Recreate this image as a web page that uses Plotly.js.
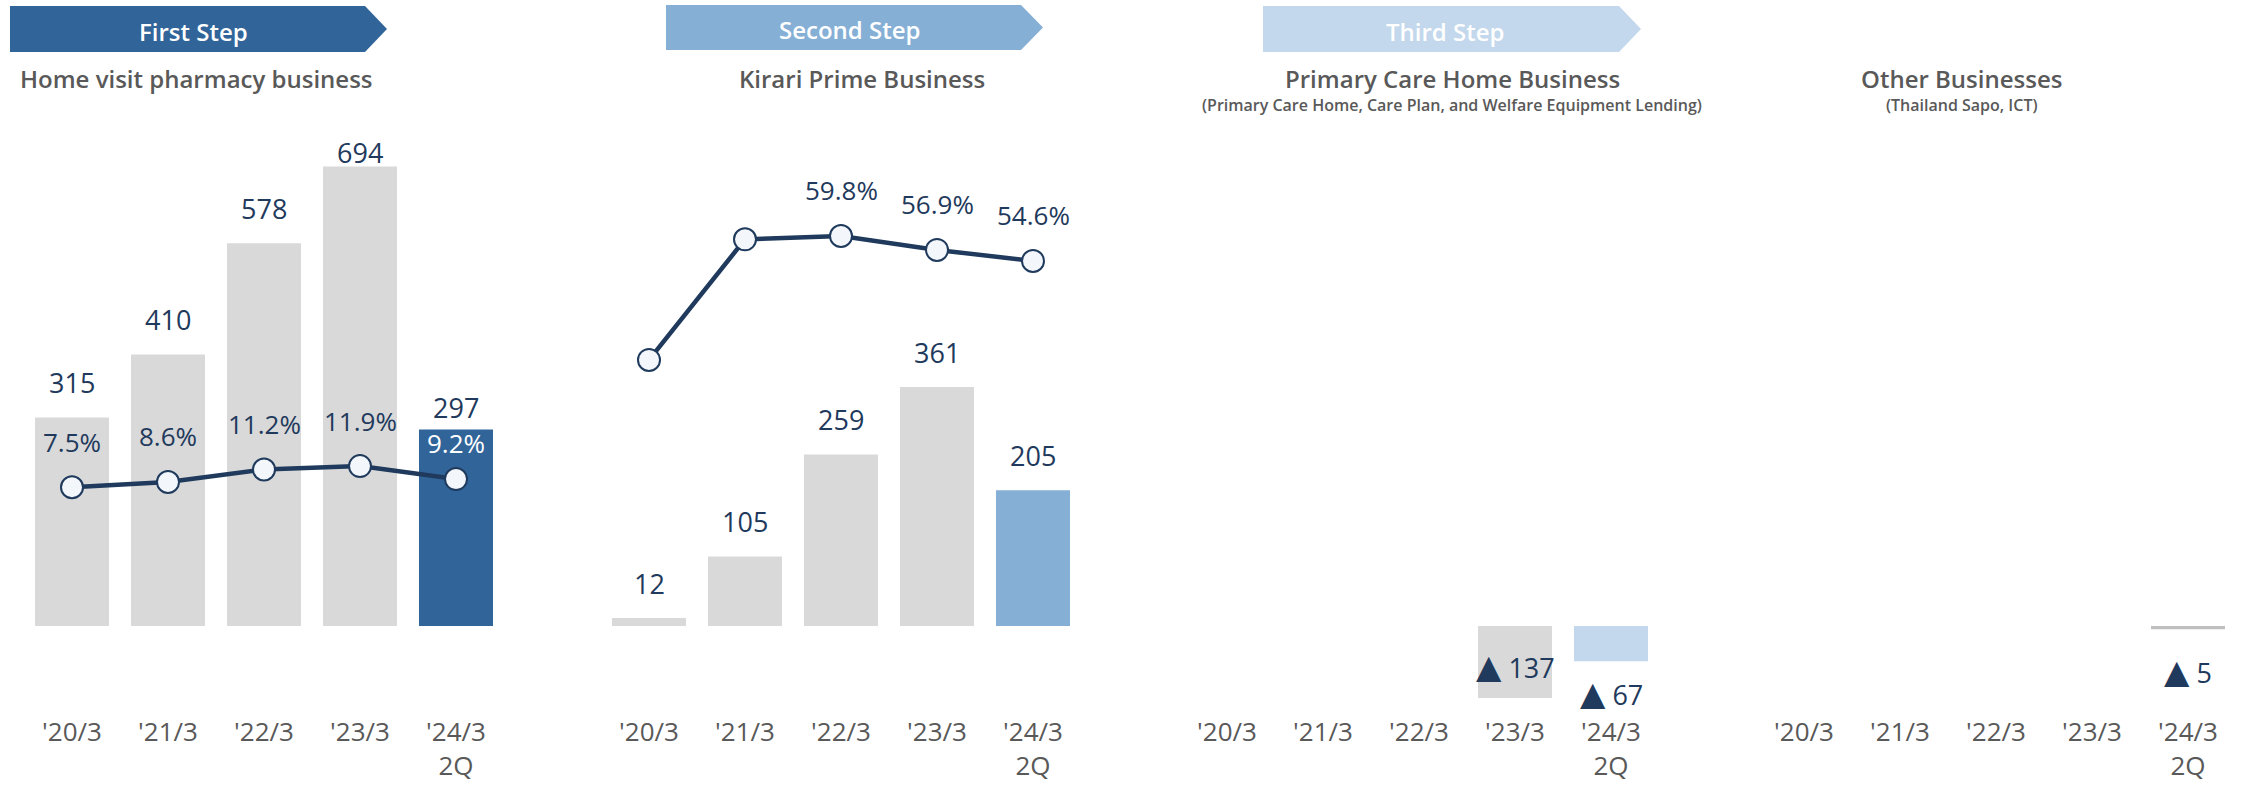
<!DOCTYPE html>
<html>
<head>
<meta charset="utf-8">
<script src="https://cdn.plot.ly/plotly-3.0.1.min.js"></script>
<style>
  html, body { margin: 0; padding: 0; background: #ffffff; }
  #chart { width: 2247px; height: 786px; }
</style>
</head>
<body>
<div id="chart"></div>
<script>
// ---------------- DATA ----------------
const categories = ["'20/3", "'21/3", "'22/3", "'23/3", "'24/3<br>2Q"];

const pharmacyProfit = [315, 410, 578, 694, 297];
const pharmacyMargin = [7.5, 8.6, 11.2, 11.9, 9.2];

const kirariProfit = [12, 105, 259, 361, 205];
const kirariMargin = [34.0, 59.1, 59.8, 56.9, 54.6];
const kirariMarginLabeled = [false, false, true, true, true];

const primaryCareProfit = [null, null, null, -137, -67];
const otherProfit = [null, null, null, null, -5];

const stepLabels = ["First Step", "Second Step", "Third Step"];
const panelTitles = ["Home visit pharmacy business", "Kirari Prime Business",
                     "Primary Care Home Business", "Other Businesses"];
const panelSubtitles = ["", "", "(Primary Care Home, Care Plan, and Welfare Equipment Lending)",
                        "(Thailand Sapo, ICT)"];

// ---------------- STYLE / LAYOUT ----------------
const W = 2247, H = 786;
const px = x => x / W;
const py = y => 1 - y / H;

const FONT = "'Open Sans', 'Noto Sans', 'DejaVu Sans', sans-serif";
const NAVY = '#1f3a5c';
const GRAY_TXT = '#595959';
const BAR_GRAY = '#d9d9d9';
const highlight = ['#31659a', '#86afd6', '#c3d8ec', '#bfbfbf'];

const baselineTop = 626;           // px from top where value 0 sits
const baseFromBottom = H - baselineTop;
const barScale = 0.662;            // px per unit (panels 1, 2, 4)
const barScale3 = 0.526;           // px per unit (panel 3)
const pctZeroTop = 523.3;          // px from top for 0 %
const pctScale = 4.805;            // px per %

const panelLeft = [24, 601, 1179, 1756];
const panelWidth = 480;
const axisPos = (H - 714) / H;

function yr(scale) { return [-baseFromBottom / scale, baselineTop / scale]; }
const pctRange = [-(H - pctZeroTop) / pctScale, pctZeroTop / pctScale];

function colors(vals, hl) {
  return vals.map((v, i) => i === vals.length - 1 ? hl : BAR_GRAY);
}
function fmt(v) {
  return v < 0 ? '<span style="font-size:33px">\u25B2</span> ' + Math.abs(v) : String(v);
}

const traces = [
  { type: 'bar', x: categories, y: pharmacyProfit, xaxis: 'x', yaxis: 'y',
    marker: { color: colors(pharmacyProfit, highlight[0]) }, hoverinfo: 'none' },
  { type: 'scatter', mode: 'lines+markers', x: categories, y: pharmacyMargin, xaxis: 'x', yaxis: 'y2',
    line: { color: NAVY, width: 4.5 },
    marker: { size: 22, color: '#f3f6fb', line: { color: NAVY, width: 2 } }, hoverinfo: 'none' },
  { type: 'bar', x: categories, y: kirariProfit, xaxis: 'x2', yaxis: 'y3',
    marker: { color: colors(kirariProfit, highlight[1]) }, hoverinfo: 'none' },
  { type: 'scatter', mode: 'lines+markers', x: categories, y: kirariMargin, xaxis: 'x2', yaxis: 'y4',
    line: { color: NAVY, width: 4.5 },
    marker: { size: 22, color: '#f3f6fb', line: { color: NAVY, width: 2 } }, hoverinfo: 'none' },
  { type: 'bar', x: categories, y: primaryCareProfit, xaxis: 'x3', yaxis: 'y5',
    marker: { color: colors(primaryCareProfit, highlight[2]) }, hoverinfo: 'none' },
  { type: 'bar', x: categories, y: otherProfit, xaxis: 'x4', yaxis: 'y6',
    marker: { color: colors(otherProfit, highlight[3]) }, hoverinfo: 'none' }
];

const annotations = [];
// bar value labels
function barLabels(vals, xa, ya, scale, opts) {
  vals.forEach((v, i) => {
    if (v === null) return;
    const hPx = Math.abs(v) * scale;
    let shift;
    if (v >= 0) {
      shift = Math.min(opts.above, opts.capPx - hPx);
      if (opts.lastAbove !== undefined && i === vals.length - 1) shift = opts.lastAbove;
    } else {
      shift = hPx > 60 ? opts.insideNeg : opts.outsideNeg;
    }
    annotations.push({ xref: xa, yref: ya, x: categories[i], y: v, yshift: shift,
      text: fmt(v), showarrow: false, xanchor: 'center', yanchor: 'middle', borderpad: 0,
      font: { family: FONT, size: 27, color: NAVY } });
  });
}
barLabels(pharmacyProfit, 'x', 'y', barScale, { above: 35, capPx: 473, lastAbove: 22 });
barLabels(kirariProfit, 'x2', 'y3', barScale, { above: 35, capPx: 473 });
barLabels(primaryCareProfit, 'x3', 'y5', barScale3, { insideNeg: 33, outsideNeg: -31 });
barLabels(otherProfit, 'x4', 'y6', barScale, { insideNeg: 33, outsideNeg: -41 });

// margin labels
pharmacyMargin.forEach((v, i) => {
  const last = i === pharmacyMargin.length - 1;
  annotations.push({ xref: 'x', yref: 'y2', x: categories[i], y: v, yshift: last ? 36 : 45.5,
    text: v.toFixed(1) + '%', showarrow: false, yanchor: 'middle', borderpad: 0,
    font: { family: FONT, size: 26, color: last ? '#ffffff' : NAVY } });
});
kirariMargin.forEach((v, i) => {
  if (!kirariMarginLabeled[i]) return;
  annotations.push({ xref: 'x2', yref: 'y4', x: categories[i], y: v, yshift: 45.5,
    text: v.toFixed(1) + '%', showarrow: false, yanchor: 'middle', borderpad: 0,
    font: { family: FONT, size: 26, color: NAVY } });
});

// step banners
const banners = [
  { x0: 10, x1: 365, tip: 387, y0: 6, y1: 52, tx: 193 },
  { x0: 666, x1: 1021, tip: 1043, y0: 5, y1: 50, tx: 849 },
  { x0: 1263, x1: 1619, tip: 1641, y0: 6, y1: 52, tx: 1445 }
];
const shapes = banners.map((b, i) => {
  const ym = (b.y0 + b.y1) / 2;
  const path = 'M ' + px(b.x0) + ',' + py(b.y0) +
    ' L ' + px(b.x1) + ',' + py(b.y0) +
    ' L ' + px(b.tip) + ',' + py(ym) +
    ' L ' + px(b.x1) + ',' + py(b.y1) +
    ' L ' + px(b.x0) + ',' + py(b.y1) + ' Z';
  annotations.push({ xref: 'paper', yref: 'paper', x: px(b.tx), y: py(ym + 2),
    text: stepLabels[i], showarrow: false, xanchor: 'center', yanchor: 'middle',
    font: { family: FONT, size: 24, color: '#ffffff', weight: 600 } });
  return { type: 'path', xref: 'paper', yref: 'paper', path: path,
    fillcolor: highlight[i], line: { width: 0 }, layer: 'below' };
});

// panel titles
const titleCenters = [196, 862, 1452, 1961];
panelTitles.forEach((t, i) => {
  annotations.push({ xref: 'paper', yref: 'paper', x: px(titleCenters[i]), y: py(78),
    text: t, showarrow: false, xanchor: 'center', yanchor: 'middle',
    font: { family: FONT, size: 24, color: GRAY_TXT, weight: 600 } });
  if (panelSubtitles[i]) {
    annotations.push({ xref: 'paper', yref: 'paper', x: px(titleCenters[i]), y: py(105),
      text: panelSubtitles[i], showarrow: false, xanchor: 'center', yanchor: 'middle',
      font: { family: FONT, size: 16, color: GRAY_TXT, weight: 600 } });
  }
});

function xAxis(i) {
  return {
    domain: [px(panelLeft[i]), px(panelLeft[i] + panelWidth)],
    type: 'category', range: [-0.5, 4.5], anchor: 'free', position: axisPos,
    showline: false, showgrid: false, zeroline: false, ticks: '',
    tickfont: { family: FONT, size: 26, color: GRAY_TXT }, fixedrange: true
  };
}
function yAxis(range, anchor, overlaying) {
  const a = { domain: [0, 1], range: range, visible: false, showgrid: false,
              zeroline: false, fixedrange: true, anchor: anchor };
  if (overlaying) a.overlaying = overlaying;
  return a;
}

const layout = {
  width: W, height: H,
  margin: { l: 0, r: 0, t: 0, b: 0, pad: 0 },
  paper_bgcolor: '#ffffff', plot_bgcolor: 'rgba(0,0,0,0)',
  showlegend: false, bargap: 0.229,
  font: { family: FONT },
  xaxis: xAxis(0), xaxis2: xAxis(1), xaxis3: xAxis(2), xaxis4: xAxis(3),
  yaxis: yAxis(yr(barScale), 'x'),
  yaxis2: yAxis(pctRange, 'x', 'y'),
  yaxis3: yAxis(yr(barScale), 'x2'),
  yaxis4: yAxis(pctRange, 'x2', 'y3'),
  yaxis5: yAxis(yr(barScale3), 'x3'),
  yaxis6: yAxis(yr(barScale), 'x4'),
  shapes: shapes,
  annotations: annotations
};

Plotly.newPlot('chart', traces, layout, { displayModeBar: false, staticPlot: true });
</script>
</body>
</html>
